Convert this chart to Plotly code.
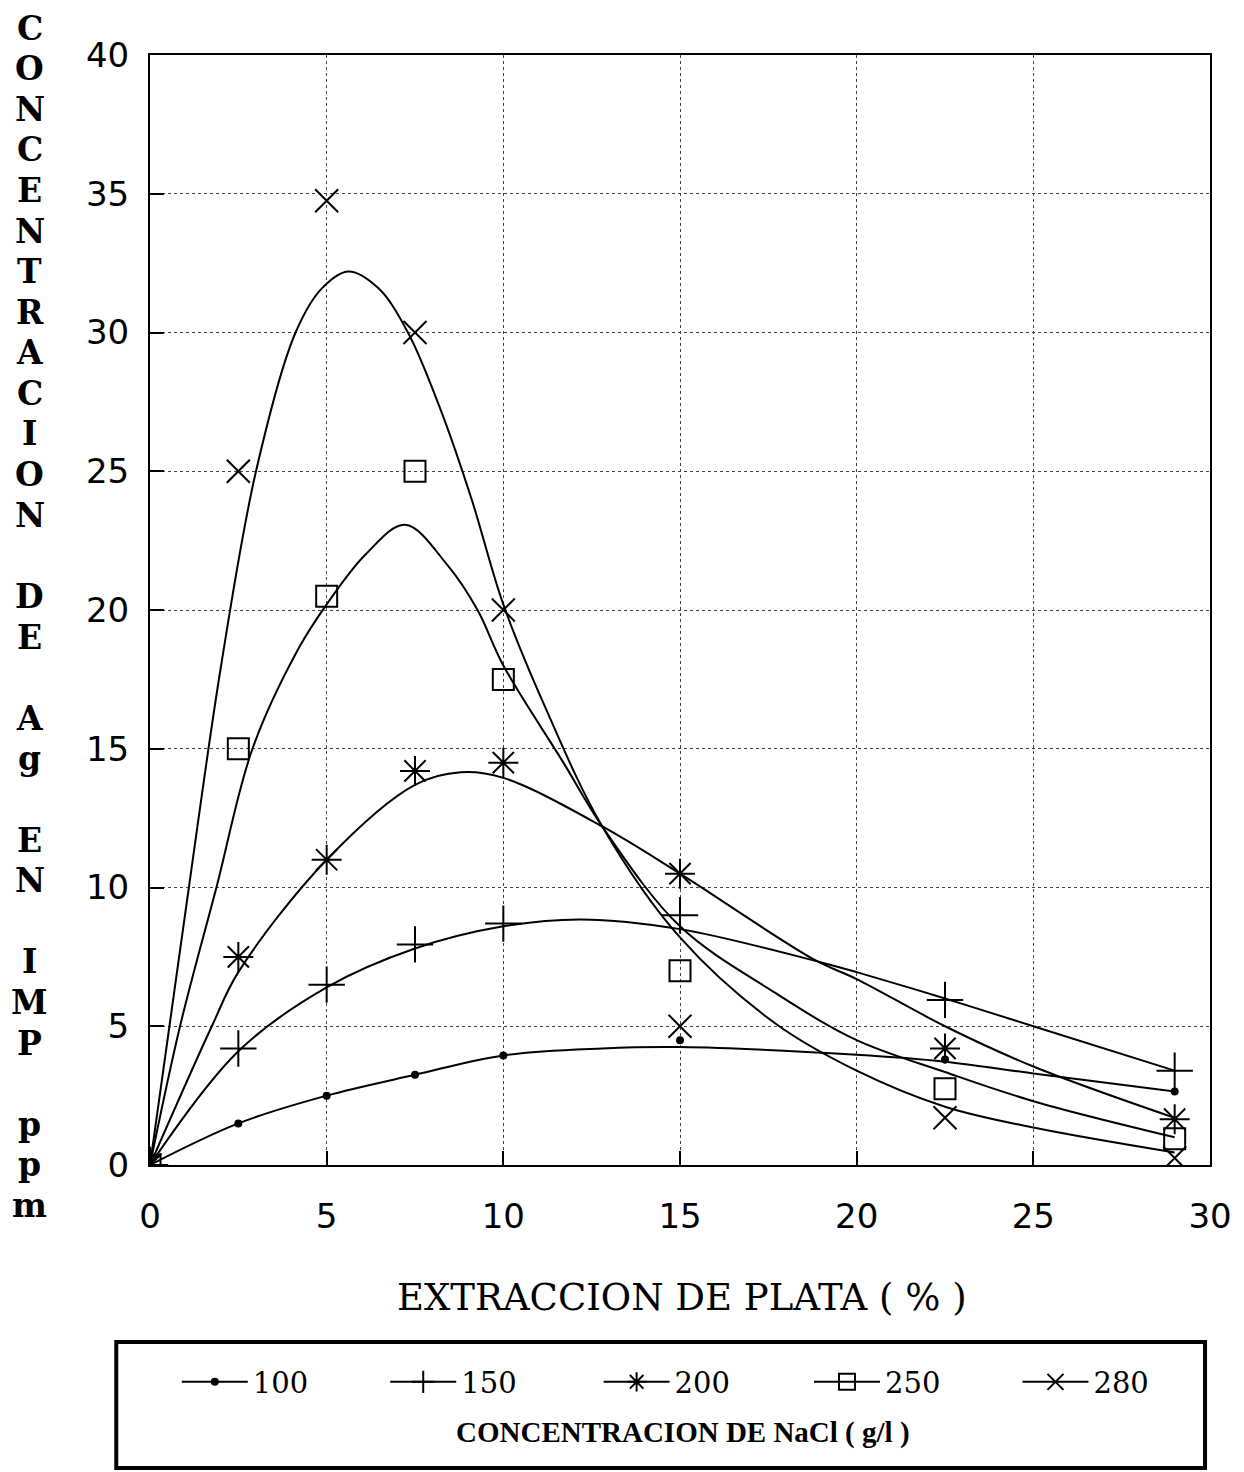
import plotly.graph_objects as go

# ---------------- data ----------------
x_pts = [0, 2.5, 5, 7.5, 10, 15, 22.5, 29]
series_names = ["100", "150", "200", "250", "280"]
y100 = [0, 1.5, 2.5, 3.25, 3.95, 4.5, 3.8, 2.65]
y150 = [0, 4.2, 6.5, 7.95, 8.7, 9.0, 5.95, 3.4]
y200 = [0, 7.5, 11.0, 14.2, 14.5, 10.5, 4.2, 1.65]
y250 = [0, 15.0, 20.5, 25.0, 17.5, 7.0, 2.75, 0.95]
y280 = [0, 25.0, 34.75, 30.0, 20.0, 5.0, 1.7, 0.25]

# fitted curves
c100_x = [0, 2.5, 5, 7.5, 10, 12.8, 15, 20, 22.5, 25, 29]
c100_y = [0, 1.5, 2.5, 3.25, 3.95, 4.2, 4.25, 3.97, 3.72, 3.3, 2.65]
c150_x = [0, 2.5, 5, 7.5, 10, 12.2, 15, 19, 20, 22.5, 25, 29]
c150_y = [0, 4.1, 6.4, 7.8, 8.6, 8.85, 8.5, 7.3, 6.95, 6.0, 5.0, 3.4]
c200_x = [0, 1.75, 2.5, 5, 7.5, 8.8, 10, 12.8, 15, 18.8, 20, 22.5, 25, 29]
c200_y = [0, 5.0, 6.95, 11.0, 13.7, 14.15, 13.95, 12.2, 10.5, 7.4, 6.7, 5.0, 3.55, 1.7]
c250_x = [0, 0.85, 1.88, 2.9, 4.2, 5, 6.1, 7.22, 8.43, 9.27, 10, 11.7, 12.8, 15, 17.7, 20, 22.5, 25, 29]
c250_y = [0, 5, 10, 15, 18.6, 20.2, 22.0, 23.07, 21.6, 20.0, 18.0, 14.5, 12.2, 8.6, 6.2, 4.5, 3.35, 2.3, 1.0]
c280_x = [0, 0.55, 1.1, 2.0, 3.0, 4.12, 4.87, 5.62, 6.46, 7.3, 8.2, 9.1, 10,
          11.15, 12.8, 15, 17.7, 20, 22.5, 25, 29]
c280_y = [0, 5, 10, 17.9, 25.0, 30.0, 31.6, 32.2, 31.6, 30.0, 27.3, 24.0, 20.2,
          16.6, 12.2, 8.2, 5.1, 3.4, 2.1, 1.35, 0.45]

x_ticks = [0, 5, 10, 15, 20, 25, 30]
y_ticks = [0, 5, 10, 15, 20, 25, 30, 35, 40]
y_title_letters = ["C", "O", "N", "C", "E", "N", "T", "R", "A", "C", "I", "O", "N", "",
                   "D", "E", "", "A", "g", "", "E", "N", "", "I", "M", "P", "", "p", "p", "m"]
x_title = "EXTRACCION DE PLATA ( % )"
legend_caption = "CONCENTRACION DE NaCl ( g/l )"

# ---------------- styling ----------------
W, H = 1244, 1472
L, R, T, B = 150, 1218, 55, 1165


def xp(px):
    return (px - L) / (R - L)


def yp(py):
    return (B - py) / (B - T)


styles = [
    dict(symbol="circle", size=8, line=dict(width=0, color="black")),
    dict(symbol="cross-thin", size=26, line=dict(width=2, color="black")),
    dict(symbol="asterisk", size=25, line=dict(width=2, color="black")),
    dict(symbol="square-open", size=21, line=dict(width=2, color="black")),
    dict(symbol="x-thin", size=23, line=dict(width=2, color="black")),
]
pts = [y100, y150, y200, y250, y280]
curves = [(c100_x, c100_y), (c150_x, c150_y), (c200_x, c200_y),
          (c250_x, c250_y), (c280_x, c280_y)]
legend_ids = ["legend", "legend2", "legend3", "legend4", "legend5"]
legend_line_px = [177, 387, 602, 814, 1024]

fig = go.Figure()
for name, (cx, cy), yv, st, lid in zip(series_names, curves, pts, styles, legend_ids):
    fig.add_trace(go.Scatter(x=cx, y=cy, mode="lines",
                             line=dict(color="black", width=2, shape="spline", smoothing=1.0),
                             showlegend=False, hoverinfo="skip"))
    fig.add_trace(go.Scatter(x=x_pts, y=yv, mode="markers",
                             marker=dict(color="black", **st),
                             showlegend=False, name=name))
    # legend entry (line + marker)
    fig.add_trace(go.Scatter(x=[None], y=[None], mode="lines+markers", name=name,
                             legend=lid,
                             line=dict(color="black", width=2),
                             marker=dict(color="black", **{**st, "size": min(st["size"], 16)})))

grid = dict(showgrid=True, gridcolor="#444", gridwidth=1, griddash="dot",
            showline=True, linecolor="black", linewidth=2, mirror=True,
            ticks="inside", ticklen=14, tickwidth=2, tickcolor="black",
            zeroline=False)

fig.update_xaxes(range=[0, 30], tickvals=x_ticks, ticktext=[str(v) for v in x_ticks],
                 tickfont=dict(family="DejaVu Sans", size=34, color="black"),
                 ticklabelstandoff=20, **grid)
fig.update_yaxes(range=[0, 40], tickvals=y_ticks, ticktext=[str(v) for v in y_ticks],
                 tickfont=dict(family="DejaVu Sans", size=34, color="black"),
                 ticklabelstandoff=12, **grid)

annotations = []
for i, ch in enumerate(y_title_letters):
    if ch:
        annotations.append(dict(text=ch, xref="paper", yref="paper",
                                x=xp(29), y=yp(28 + i * 40.6), xanchor="center", yanchor="middle",
                                showarrow=False,
                                font=dict(family="DejaVu Serif", size=33, color="black",
                                          weight="bold")))
annotations += [
    dict(text=x_title, xref="paper", yref="paper", x=xp(686), y=yp(1297),
         xanchor="center", yanchor="middle", showarrow=False,
         font=dict(family="DejaVu Serif", size=37, color="black")),
    dict(text="<b>" + legend_caption + "</b>", xref="paper", yref="paper",
         x=xp(687), y=yp(1432), xanchor="center", yanchor="middle", showarrow=False,
         font=dict(family="Liberation Serif", size=29, color="black")),
]

legend_layouts = {}
for lid, lx in zip(legend_ids, legend_line_px):
    legend_layouts[lid] = dict(
        orientation="h", x=xp(lx), y=yp(1382), xanchor="left", yanchor="middle",
        bgcolor="rgba(0,0,0,0)", itemwidth=66,
        font=dict(family="DejaVu Serif", size=29, color="black"),
        itemsizing="trace")

fig.update_layout(
    width=W, height=H,
    margin=dict(l=L, r=W - R, t=T, b=H - B, pad=0),
    paper_bgcolor="white", plot_bgcolor="white",
    showlegend=True,
    annotations=annotations,
    shapes=[dict(type="rect", xref="paper", yref="paper",
                 x0=xp(116), x1=xp(1213), y0=yp(1342), y1=yp(1468),
                 line=dict(color="black", width=4))],
    **legend_layouts,
)

fig.write_html("out.html")
